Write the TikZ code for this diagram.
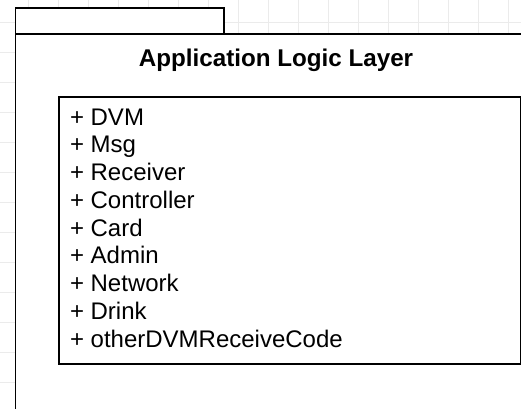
\documentclass[tikz,border=0pt]{standalone}
\usepackage{fontspec}
\setmainfont{Liberation Sans}
\begin{document}
\begin{tikzpicture}[x=1pt,y=-1pt,
  frame/.style={draw=black,line width=1.4pt,fill=white},
  classbox/.style={draw=black,line width=1.3pt,fill=white},
  member/.style={anchor=base west,inner sep=0pt,font=\fontsize{24}{28}\selectfont},
  gridline/.style={draw=black!8,line width=0.8pt}]
\useasboundingbox (0,0) rectangle (521,408);
\clip (0,0) rectangle (521,408);
% background grid
\foreach \gx in {-1.5,28.5,...,521} \draw[gridline] (\gx,0) -- (\gx,408);
\foreach \gy in {22,52,...,408} \draw[gridline] (0,\gy) -- (521,\gy);
% package tab and body
\draw[frame] (15.5,8) rectangle (224,34);
\draw[frame] (15.5,34) rectangle (540,430);
\node[anchor=base,font=\fontsize{24.2}{28}\selectfont\bfseries] (title) at (276,66) {Application Logic Layer};
% class member list
\draw[classbox] (59,97) rectangle (520.5,364);
\foreach \txt [count=\i] in {DVM,Msg,Receiver,Controller,Card,Admin,Network,Drink,otherDVMReceiveCode}
  \node[member] (m\i) at (69.8,{125+(\i-1)*27.75}) {+ \txt};
\end{tikzpicture}
\end{document}
